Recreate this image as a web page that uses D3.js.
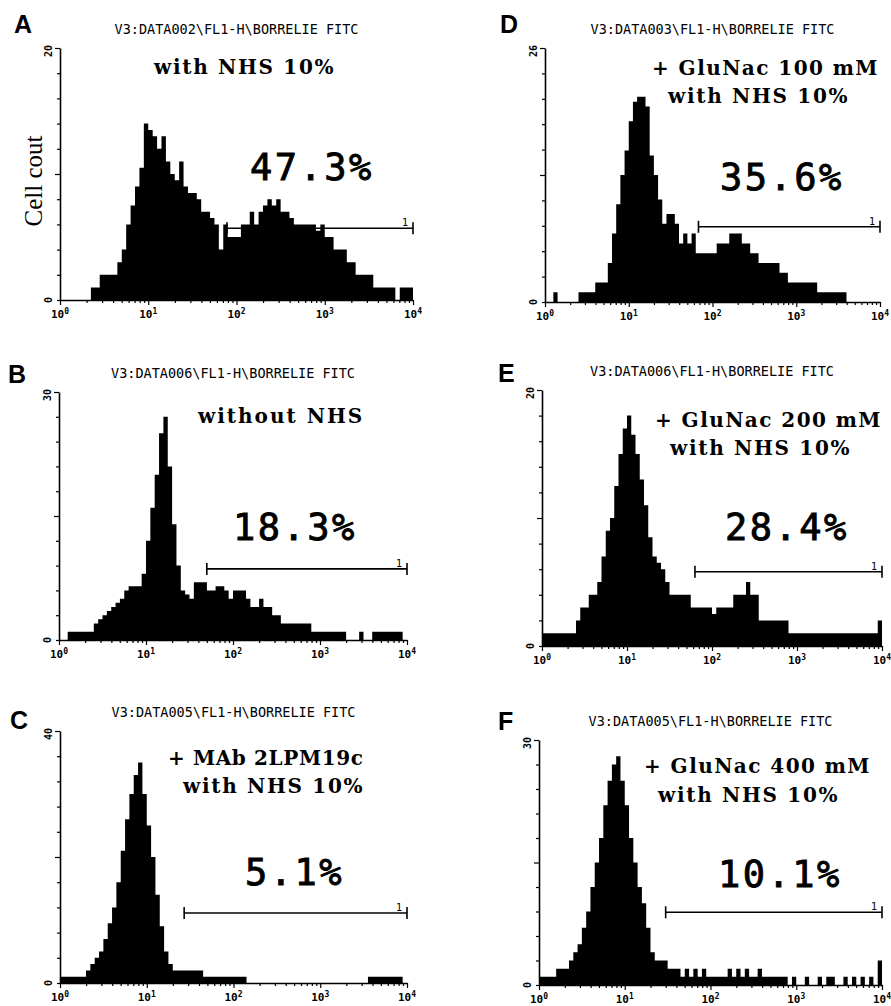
<!DOCTYPE html>
<html lang="en">
<head>
  <meta charset="UTF-8">
  <title>Borrelia FACS histograms</title>
  <script src="https://d3js.org/d3.v7.min.js"></script>
  <style>
    body {
      margin: 0;
      background: white;
      overflow: hidden;
    }
  </style>
</head>
<body>
  <script>
    const width = 891;
    const height = 1006;

    // 80 channels across 4 decades (10^0 .. 10^4), counts
    const countsA = [0,0,0,0,0,0,0,1,1,2, 2,2,2,3,4,6,7.5,9,10.5,14, 13.5,13,12,13,11,10,9.5,11,9,8.5,
      8.5,8,7,7,6.5,6,4,6,5,5, 5,6,6,7,6,7,7.5,8,7.5,8, 7,7,6.5,6,6,6,6,6,5.5,6,
      5,5,4,4,4,3,3,2,2,2, 2,1,1,1,1,1,0,1,1,1];
    const countsB = [0,0,1,1,1,1,1,1,2,2.5, 3,3.5,4,4.5,5,6,6.5,6.5,6.5,8, 12,16,20,25,27,21,14,9,6,5.5,
      5,7,7,7,6,6,6.5,6.5,6,5, 6,6,6,5,4,4,5,4,4,3, 3,2,2,2,2,2,2,2,1,1,
      1,1,1,1,1,1,0,0,0,1, 0,0,1,1,1,1,1,1,1,0];
    const countsC = [1,1,1,1,1,1,2,3,4,5, 7,9.5,12,16,21,26,30,33,35,30, 25,20,14,9,5,3,2,2,2,2,
      2,2,2,1,1,1,1,1,1,1, 1,1,1,0,0,0,0,0,0,0, 0,0,0,0,0,0,0,0,0,0,
      0,0,0,0,0,0,0,0,0,0, 0,1,1,1,1,1,1,1,1,0];
    const countsD = [0,0,1,0,0,0,0,0,1,1, 1,1,2,2,2,4,7,10,13,15.5, 18.5,20.5,21,21,20,15,13,10.5,8,9,
      9,8,6,7,6,7,5,5,5,5, 5,6,6,6,7,7,7,6,6,5, 5,4,4,4,4,4,3,3,2,2,
      2,2,2,2,2,1,1,1,1,1, 1,1,0,0,0,0,0,0,0,0];
    const countsE = [1,1,1,1,1,1,1,1,2,3, 3,4,4,5,7,9,10,12.5,15,17, 18,16.5,15,13,11,8.5,7,6.5,6,5,
      4,4,4,4,4,3,3,3,3,3, 2.5,3,3,3,3,4,4,4,5,4, 4,2,2,2,2,2,2,2,1,1,
      1,1,1,1,1,1,1,1,1,1, 1,1,1,1,1,1,1,1,1,2];
    const countsF = [1,1,1,1,2,2,2,3,4,5, 7,9,12,15,18,22,25,27,28,25, 22,18,15,12,10,7,4,3,3,3,
      2,2,2,1,2,1,2,1,2,1, 1,1,1,1,2,1,2,1,2,1, 1,2,1,1,1,1,1,1,0,1,
      0,0,1,0,0,1,0,1,1,0, 0,1,0,1,0,1,0,1,0,3];

    const panelIds = ["A", "B", "C", "D", "E", "F"];
    const allCounts = [countsA, countsB, countsC, countsD, countsE, countsF];
    const yMaxes = [20, 30, 40, 26, 20, 30];
    const headers = [
      "V3:DATA002\\FL1-H\\BORRELIE FITC",
      "V3:DATA006\\FL1-H\\BORRELIE FITC",
      "V3:DATA005\\FL1-H\\BORRELIE FITC",
      "V3:DATA003\\FL1-H\\BORRELIE FITC",
      "V3:DATA006\\FL1-H\\BORRELIE FITC",
      "V3:DATA005\\FL1-H\\BORRELIE FITC"
    ];
    const conditions = [
      ["with NHS 10%"],
      ["without NHS"],
      ["+ MAb 2LPM19c", "with NHS 10%"],
      ["+ GluNac 100 mM", "with NHS 10%"],
      ["+ GluNac 200 mM", "with NHS 10%"],
      ["+ GluNac 400 mM", "with NHS 10%"]
    ];
    const percents = ["47.3%", "18.3%", "5.1%", "35.6%", "28.4%", "10.1%"];
    // marker "1": start channel (fluorescence value) and the count level it is drawn at
    const gateStarts = [78, 50, 27, 68, 63, 30];
    const gateLevels = [5.7, 8.6, 11.1, 7.7, 5.8, 8.9];
    const decades = [0, 1, 2, 3, 4];

    // page layout of each panel
    const layout = [
      { left: 60,  right: 413, top: 48,  base: 300, label: [14, 33],  cond: [[154, 74]],             pct: [250, 180] },
      { left: 59,  right: 407, top: 392, base: 640, label: [8, 383],  cond: [[198, 423]],            pct: [233, 540] },
      { left: 60,  right: 407, top: 731, base: 983, label: [10, 729], cond: [[168, 765], [183, 793]], pct: [245, 885] },
      { left: 545, right: 880, top: 48,  base: 302, label: [500, 33], cond: [[652, 75], [668, 103]],  pct: [720, 190] },
      { left: 542, right: 882, top: 390, base: 646, label: [498, 382], cond: [[655, 427], [670, 455]], pct: [725, 540] },
      { left: 539, right: 882, top: 740, base: 985, label: [498, 730], cond: [[644, 773], [658, 802]], pct: [718, 887] }
    ];
    const condCharWidth = 15.3;

    const monoFont = "'DejaVu Sans Mono', monospace";
    const slabFont = "'DejaVu Serif', 'Courier New', serif";

    const svg = d3.select("body")
      .append("svg")
      .attr("width", width)
      .attr("height", height)
      .style("background", "white");

    // every log tick 1..9 x 10^d
    const logTicks = [];
    for (let d = 0; d < 4; d++) {
      for (let k = 1; k < 10; k++) logTicks.push(k * Math.pow(10, d));
    }
    logTicks.push(1e4);

    panelIds.forEach((id, p) => {
      const L = layout[p];
      const counts = allCounts[p];
      const n = counts.length;
      const g = svg.append("g");

      const x = d3.scaleLog().domain([1, 1e4]).range([L.left, L.right]);
      const y = d3.scaleLinear().domain([0, yMaxes[p]]).range([L.base, L.top]);

      // histogram as a stepped area
      const pts = counts.map((c, i) => [Math.pow(10, 4 * i / n), c]);
      pts.push([1e4, counts[n - 1]]);
      const area = d3.area()
        .x(d => x(d[0]))
        .y0(L.base)
        .y1(d => y(d[1]))
        .curve(d3.curveStepAfter);
      g.append("path")
        .attr("d", area(pts))
        .attr("fill", "#000");

      // x axis
      const xAxis = g.append("g")
        .attr("transform", `translate(0,${L.base})`)
        .call(d3.axisBottom(x).tickValues(logTicks).tickSize(3).tickSizeOuter(0).tickFormat(""));
      xAxis.select(".domain").attr("stroke-width", 1.6);
      xAxis.selectAll(".tick line")
        .attr("stroke-width", 1.2)
        .attr("y2", d => Number.isInteger(Math.log10(d)) ? 5 : 3);

      decades.forEach(dd => {
        const t = g.append("text")
          .attr("x", x(Math.pow(10, dd)))
          .attr("y", L.base + 18)
          .attr("text-anchor", "middle")
          .attr("font-family", monoFont)
          .attr("font-weight", "bold")
          .attr("font-size", 11)
          .text("10");
        t.append("tspan")
          .attr("dy", -4)
          .attr("font-size", 8)
          .text(dd);
      });

      // y axis
      const yAxis = g.append("g")
        .attr("transform", `translate(${L.left},0)`)
        .call(d3.axisLeft(y).tickValues(d3.range(0, 11).map(i => i * yMaxes[p] / 10))
          .tickSize(3).tickSizeOuter(0).tickFormat(""));
      yAxis.select(".domain").attr("stroke-width", 1.6);
      yAxis.selectAll(".tick line")
        .attr("stroke-width", 1.2)
        .attr("x2", (d, i) => (i === 5 || i === 10) ? -5 : -3);

      [[yMaxes[p], L.top + 3], [0, L.base]].forEach(([v, yy]) => {
        g.append("text")
          .attr("transform", `translate(${L.left - 8},${yy}) rotate(-90)`)
          .attr("text-anchor", "middle")
          .attr("font-family", monoFont)
          .attr("font-weight", "bold")
          .attr("font-size", 10)
          .text(v);
      });

      // gate marker
      const gx0 = x(gateStarts[p]);
      const gx1 = x(1e4);
      const gy = y(gateLevels[p]);
      g.append("line")
        .attr("x1", gx0).attr("x2", gx1)
        .attr("y1", gy).attr("y2", gy)
        .attr("stroke", "#000").attr("stroke-width", 1.6);
      [gx0, gx1].forEach(gxx => {
        g.append("line")
          .attr("x1", gxx).attr("x2", gxx)
          .attr("y1", gy - 6).attr("y2", gy + 6)
          .attr("stroke", "#000").attr("stroke-width", 1.6);
      });
      g.append("text")
        .attr("x", gx1 - 8)
        .attr("y", gy - 2)
        .attr("text-anchor", "middle")
        .attr("font-family", monoFont)
        .attr("font-size", 10)
        .text("1");

      // panel letter
      g.append("text")
        .attr("x", L.label[0])
        .attr("y", L.label[1])
        .attr("font-family", "'Liberation Sans', Arial, sans-serif")
        .attr("font-weight", "bold")
        .attr("font-size", 25)
        .text(id);

      // instrument header
      g.append("text")
        .attr("x", (L.left + L.right) / 2)
        .attr("y", L.top - 14)
        .attr("text-anchor", "middle")
        .attr("font-family", monoFont)
        .attr("font-size", 13.5)
        .text(headers[p]);

      // condition
      conditions[p].forEach((line, k) => {
        g.append("text")
          .attr("x", L.cond[k][0])
          .attr("y", L.cond[k][1])
          .attr("font-family", slabFont)
          .attr("font-weight", "bold")
          .attr("font-size", 20)
          .attr("textLength", line.length * condCharWidth - 4)
          .attr("lengthAdjust", "spacing")
          .attr("xml:space", "preserve")
          .text(line);
      });

      // percentage in gate
      g.append("text")
        .attr("x", L.pct[0])
        .attr("y", L.pct[1])
        .attr("font-family", monoFont)
        .attr("font-size", 37)
        .attr("letter-spacing", 2.5)
        .attr("stroke", "#000")
        .attr("stroke-width", 0.9)
        .text(percents[p]);
    });

    // y axis title, panel A only
    svg.append("text")
      .attr("transform", "translate(42,181) rotate(-90)")
      .attr("text-anchor", "middle")
      .attr("font-family", "'Liberation Serif', 'Times New Roman', serif")
      .attr("font-size", 25)
      .text("Cell cout");
  </script>
</body>
</html>
